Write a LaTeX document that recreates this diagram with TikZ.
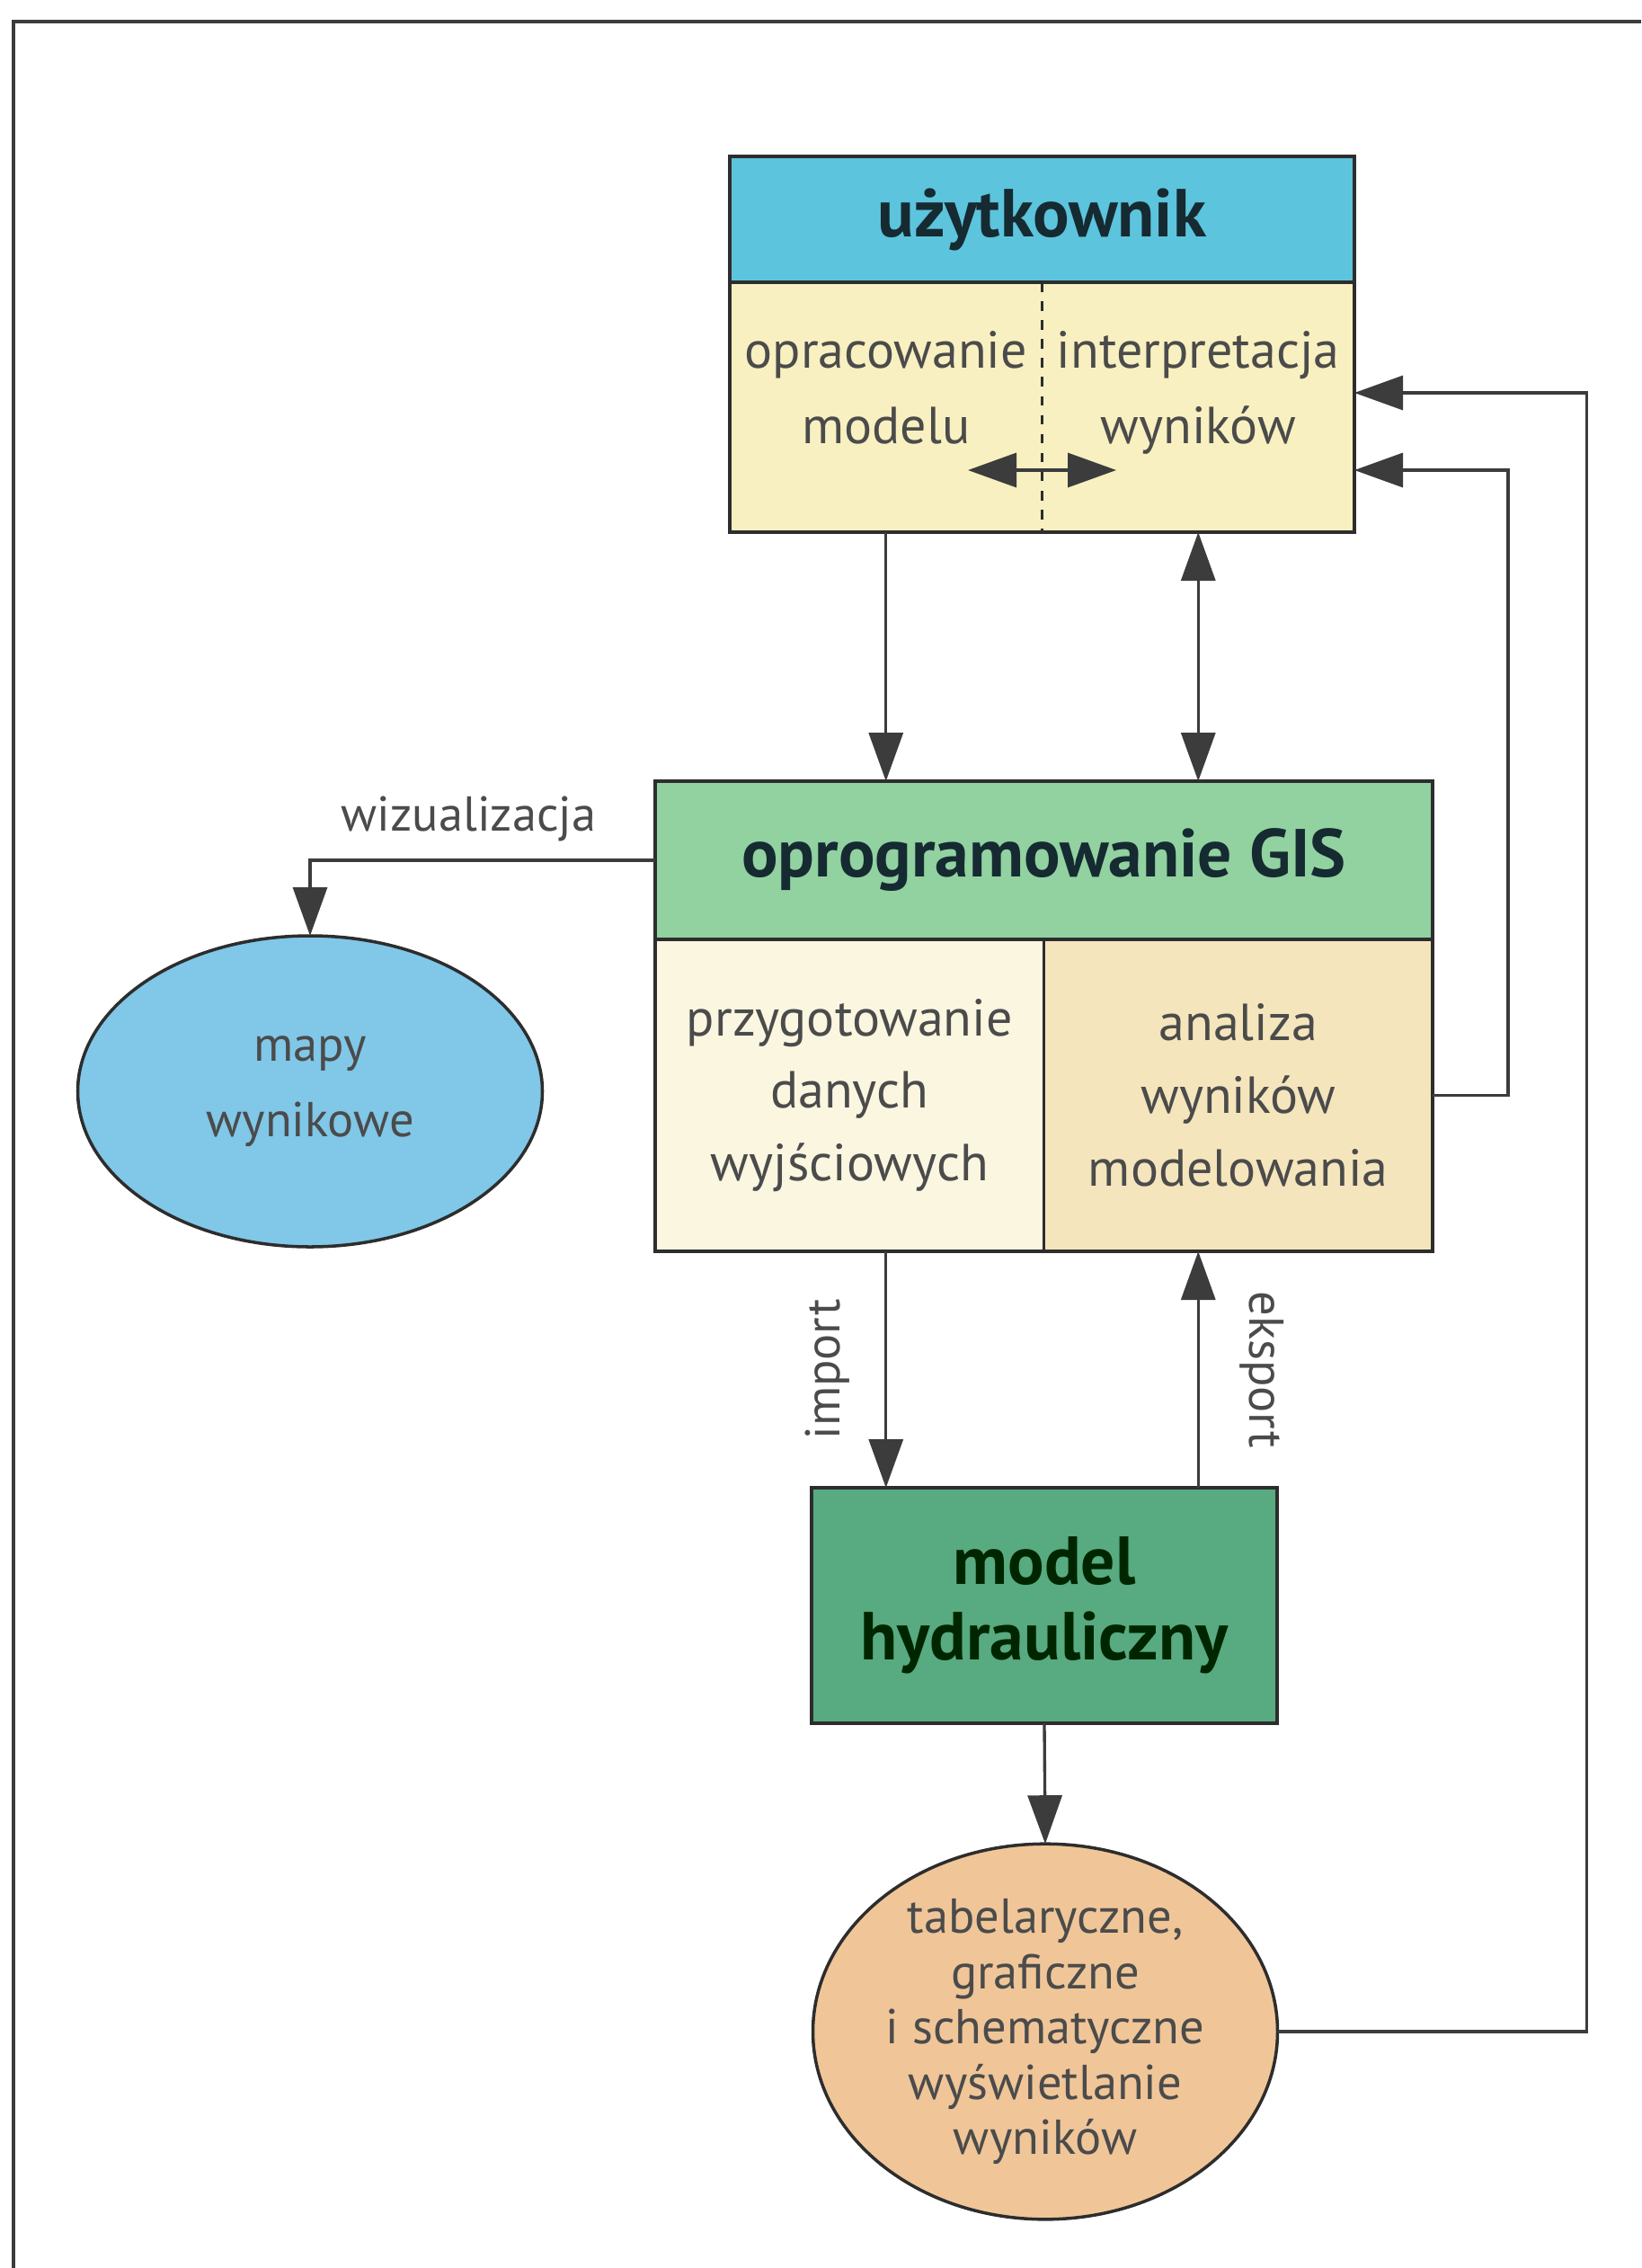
\documentclass[tikz,border=0pt]{standalone}
\usepackage{fontspec}
\setmainfont{PT Sans}
\usetikzlibrary{arrows.meta,shapes.geometric,positioning}

\definecolor{userblue}{RGB}{92,196,220}
\definecolor{paleyellow}{RGB}{248,240,192}
\definecolor{gisgreen}{RGB}{145,210,160}
\definecolor{cream}{RGB}{250,246,224}
\definecolor{peach}{RGB}{245,229,188}
\definecolor{modelgreen}{RGB}{88,170,128}
\definecolor{mapblue}{RGB}{128,199,232}
\definecolor{orangefill}{RGB}{240,198,152}
\definecolor{linegray}{RGB}{60,60,60}
\definecolor{boxline}{RGB}{45,45,45}
\definecolor{textgray}{RGB}{75,75,75}
\definecolor{headdark}{RGB}{22,42,50}

\begin{document}
\begin{tikzpicture}[
		box/.style={inner sep=0pt, outer sep=0pt, align=center},
		headtxt/.style={font=\bfseries\fontsize{21.5}{25}\selectfont, text=headdark},
		celltxt/.style={text=textgray, font=\fontsize{16.5}{22.5}\selectfont},
		oval/.style={ellipse, draw=boxline, line width=1pt, inner sep=0pt, outer sep=0pt, minimum width=5.17cm, minimum height=3.46cm, align=center, text=textgray},
		lbl/.style={text=textgray, font=\fontsize{15.5}{19}\selectfont, inner sep=0pt},
		outline/.style={draw=boxline, line width=1.1pt},
		arr/.style={draw=linegray, line width=0.95pt, -{Triangle[length=0.54cm,width=0.38cm]}},
		dbl/.style={draw=linegray, line width=0.95pt, {Triangle[length=0.54cm,width=0.38cm]}-{Triangle[length=0.54cm,width=0.38cm]}}
	]
	\useasboundingbox (0,0) rectangle (18.26,-25.23);
	\draw[linegray, line width=1.2pt] (18.26,-0.24) -- (0.15,-0.24) -- (0.15,-25.23);

	\node(UserHead)		[box, outline, fill=userblue, minimum width=6.95cm, minimum height=1.40cm, headtxt] at (11.595,-2.44) {użytkownik};
	\node(UserLeft)		[box, fill=paleyellow, minimum width=3.475cm, minimum height=2.78cm, celltxt, font=\fontsize{16.5}{23.8}\selectfont, text height=1.287cm, text depth=0.487cm, anchor=north west] at (UserHead.south west) {opracowanie\\modelu};
	\node(UserRight)	[box, fill=paleyellow, minimum width=3.475cm, minimum height=2.78cm, celltxt, font=\fontsize{16.5}{23.8}\selectfont, text height=1.287cm, text depth=0.487cm, anchor=north east] at (UserHead.south east) {interpretacja\\wyników};
	\draw[outline] (UserLeft.north west) rectangle (UserRight.south east);
	\draw[boxline, line width=0.8pt, dashed] (UserLeft.north east) -- (UserLeft.south east);

	\node(GISHead)		[box, outline, fill=gisgreen, minimum width=8.65cm, minimum height=1.76cm, headtxt] at (11.615,-9.57) {oprogramowanie GIS};
	\node(GISLeft)		[box, fill=cream, minimum width=4.325cm, minimum height=3.47cm, celltxt, font=\fontsize{16.5}{23}\selectfont, anchor=north west] at (GISHead.south west) {przygotowanie\\danych\\wyjściowych};
	\node(GISRight)		[box, fill=peach, minimum width=4.325cm, minimum height=3.47cm, celltxt, font=\fontsize{16.5}{23}\selectfont, anchor=north east] at (GISHead.south east) {analiza\\wyników\\modelowania};
	\draw[outline] (GISLeft.north west) rectangle (GISRight.south east);
	\draw[boxline, line width=0.8pt] (GISLeft.north east) -- (GISLeft.south east);

	\node(Maps)			[oval, fill=mapblue, font=\fontsize{15.5}{24}\selectfont] at (3.45,-12.14) {mapy\\wynikowe};
	\node(Model)		[box, outline, fill=modelgreen, minimum width=5.18cm, minimum height=2.62cm, headtxt, text=black!85!green, font=\bfseries\fontsize{21.5}{24}\selectfont] at (11.62,-17.86) {model\\hydrauliczny};
	\node(Display)		[oval, fill=orangefill, font=\fontsize{15.5}{17.5}\selectfont] at (11.63,-22.60) {tabelaryczne,\\graficzne\\i schematyczne\\wyświetlanie\\wyników};

	\coordinate(SwapL) at (10.77,-5.23);
	\coordinate(SwapR) at (12.42,-5.23);
	\draw[dbl] (SwapL) -- (SwapR);
	\draw[arr] (UserLeft.south) -- (UserLeft.south |- GISHead.north);
	\draw[dbl] (UserRight.south) -- (UserRight.south |- GISHead.north);
	\draw[arr] (GISHead.west) -| (Maps.north) node[pos=0.27, lbl, above=0.19cm] {wizualizacja};
	\draw[arr] (GISLeft.south -| UserLeft.south) -- (Model.north -| UserLeft.south) node[midway, lbl, rotate=90, anchor=south, inner sep=0.39cm] {import};
	\draw[arr] (Model.north -| UserRight.south) -- (GISRight.south -| UserRight.south) node[midway, lbl, rotate=-90, anchor=south, inner sep=0.45cm] {eksport};
	\draw[arr] (Model.south) -- (Display.north);
	\draw[arr] (GISRight.east) -- ++(0.84,0) |- ([yshift=-0.70cm]UserRight.east);
	\draw[arr] (Display.east) -- ++(3.44,0) |- ([yshift=0.16cm]UserRight.east);
\end{tikzpicture}
\end{document}
